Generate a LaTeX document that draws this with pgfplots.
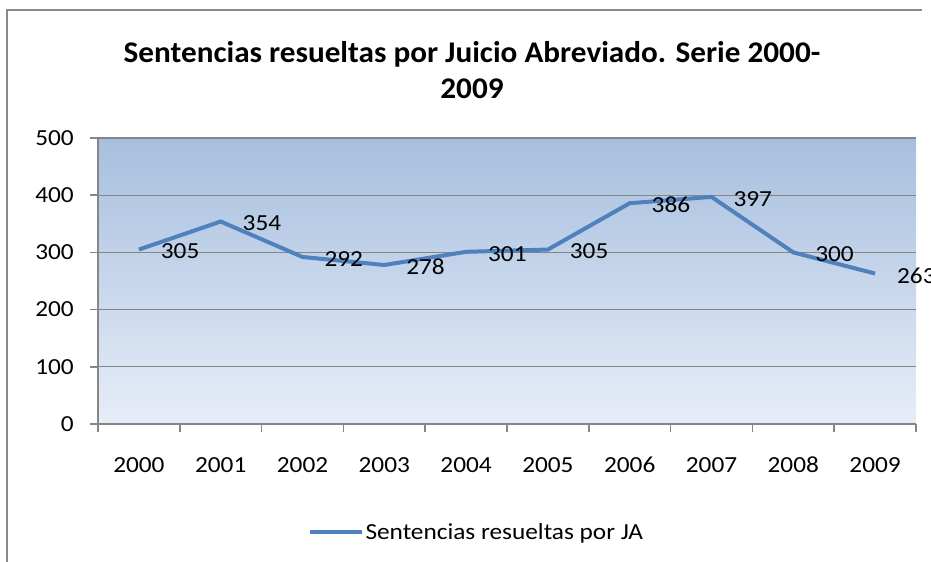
\documentclass[border=0pt]{standalone}
\usepackage{pgfplots}
\pgfplotsset{compat=1.18}
\usepackage{fontspec}
\setmainfont{Carlito}[FakeStretch=1.1]
\newfontfamily\titlefont{Carlito}[FakeStretch=1.04]
\definecolor{linec}{HTML}{4F81BD}
\definecolor{gridc}{HTML}{868686}
\definecolor{framec}{HTML}{8A8A8A}
\definecolor{topc}{HTML}{A7BFDE}
\definecolor{botc}{HTML}{E7EDF8}
\pgfplotstableread{
x y
0 305
1 354
2 292
3 278
4 301
5 305
6 386
7 397
8 300
9 263
}\datatable
\begin{document}
\begin{tikzpicture}
\path[use as bounding box] (0,0) rectangle (931bp,562bp);
\draw[color=framec, line width=2.5bp] (7bp,0bp) -- (7bp,552bp) -- (922bp,552bp);
\node[font=\titlefont\bfseries\fontsize{30bp}{36bp}\selectfont, align=center, inner sep=0pt] at (472bp,492bp) {Sentencias resueltas por Juicio Abreviado. Serie 2000-\\2009};
\begin{axis}[
  at={(98bp,138bp)}, anchor=south west,
  width=818bp, height=286bp, scale only axis,
  xmin=-0.5, xmax=9.5, ymin=0, ymax=500,
  axis lines=left, axis line style={-, draw=gridc, line width=1.5bp},
  axis background/.style={top color=topc, bottom color=botc},
  xtick={0,...,9},
  xticklabels={2000,2001,2002,2003,2004,2005,2006,2007,2008,2009},
  minor xtick={-0.5,0.5,...,9.5},
  major x tick style={draw=none},
  minor x tick style={draw=gridc, line width=1.5bp},
  ytick={0,100,...,500},
  y tick style={draw=gridc, line width=1.5bp},
  tick align=outside, major tick length=8bp, minor tick length=8bp,
  ymajorgrids, grid style={draw=gridc, line width=1.3bp},
  /pgf/number format/assume math mode=true,
  tick label style={font=\fontsize{23bp}{28bp}\selectfont, inner sep=0pt},
  yticklabel style={xshift=-16bp},
  xticklabel style={yshift=-25bp},
  clip=false,
  legend style={at={(0.4625,-0.378)}, anchor=center, draw=none, fill=none,
    font=\fontsize{23bp}{28bp}\selectfont, nodes={inner sep=2bp}},
  legend image code/.code={\draw[#1] (0bp,0bp) -- (52bp,0bp);},
]
\addplot[color=linec, line width=4bp, no marks,
  nodes near coords,
  every node near coord/.append style={anchor=west, inner sep=0pt, xshift=20bp, yshift=-2bp, font=\fontsize{23bp}{28bp}\selectfont, text=black}]
  table[x=x, y=y] {\datatable};
\addlegendentry{Sentencias resueltas por JA}
\end{axis}
\end{tikzpicture}
\end{document}
